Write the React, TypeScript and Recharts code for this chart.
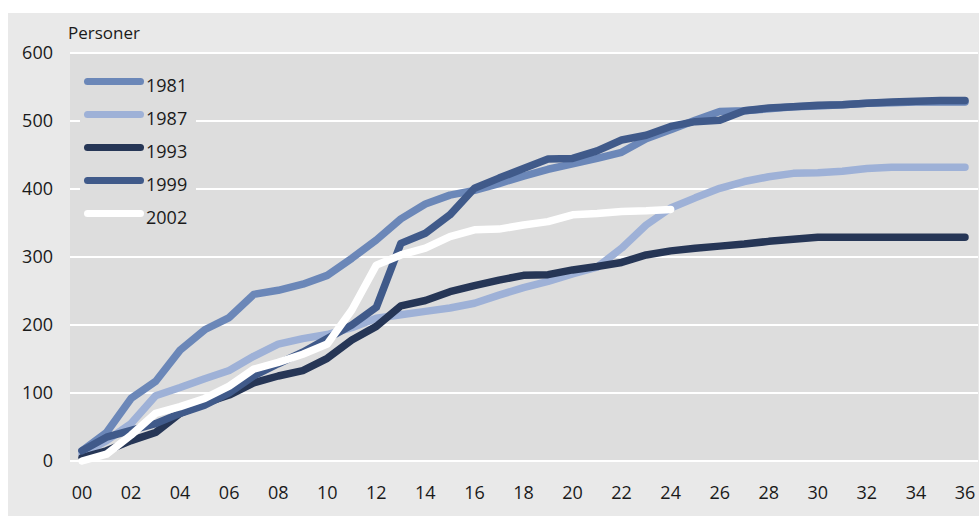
import { LineChart, Line, XAxis, YAxis, CartesianGrid } from 'recharts';

const periods = [
  '00', '01', '02', '03', '04', '05', '06', '07', '08', '09',
  '10', '11', '12', '13', '14', '15', '16', '17', '18', '19',
  '20', '21', '22', '23', '24', '25', '26', '27', '28', '29',
  '30', '31', '32', '33', '34', '35', '36',
];

const y1981 = [
  15, 42, 92, 117, 163, 193, 211, 245, 251, 260,
  273, 298, 325, 356, 378, 391, 398, 408, 419, 429,
  437, 445, 454, 474, 487, 501, 514, 515, 518, 521,
  522, 524, 526, 527, 528, 528, 528,
];
const y1987 = [
  10, 30, 55, 96, 108, 121, 133, 154, 172, 180,
  186, 196, 210, 215, 220, 225, 232, 244, 255, 264,
  275, 285, 313, 347, 372, 387, 401, 411, 418, 423,
  424, 426, 430, 432, 432, 432, 432,
];
const y1993 = [
  5, 15, 30, 42, 70, 85, 97, 115, 125, 133,
  151, 178, 198, 228, 236, 249, 258, 266, 273, 274,
  281, 286, 292, 303, 309, 313, 316, 319, 323, 326,
  329, 329, 329, 329, 329, 329, 329,
];
const y1999 = [
  15, 35, 45, 55, 70, 82, 100, 125, 143, 160,
  180, 200, 226, 320, 335, 362, 401, 416, 430, 444,
  445, 456, 472, 479, 492, 499, 501, 515, 519, 521,
  523, 524, 526, 528, 529, 530, 530,
];
const y2002 = [
  0, 10, 38, 70, 80, 92, 110, 135, 145, 157,
  172, 222, 288, 303, 313, 330, 340, 341, 347, 352,
  362, 364, 367, 368, 370,
];

const yTicks = [0, 100, 200, 300, 400, 500, 600];

const series = [
  { key: 'y1981', name: '1981', color: '#6b87b8', values: y1981 },
  { key: 'y1987', name: '1987', color: '#9eb1d7', values: y1987 },
  { key: 'y1993', name: '1993', color: '#263656', values: y1993 },
  { key: 'y1999', name: '1999', color: '#405a8a', values: y1999 },
  { key: 'y2002', name: '2002', color: '#ffffff', values: y2002 },
];

const data = periods.map((p, i) => {
  const row: Record<string, string | number | undefined> = { period: p };
  series.forEach((s) => {
    row[s.key] = s.values[i];
  });
  return row;
});

const FONT = '"Open Sans", sans-serif';
const TEXT = '#1a1a1a';

// legend drawn as html on top of the plot, it hides the gridlines behind it
function LegendBox() {
  return (
    <div
      style={{
        position: 'absolute',
        left: 72,
        top: 52,
        width: 116,
        background: '#dddddd',
        paddingBottom: 4,
      }}
    >
      {series.map((s) => (
        <div key={s.key} style={{ height: 33, display: 'flex', alignItems: 'center' }}>
          <span
            style={{
              display: 'inline-block',
              width: 60,
              height: 7,
              borderRadius: 4,
              marginLeft: 4,
              background: s.color,
            }}
          />
          <span
            style={{
              marginLeft: 2,
              marginTop: 6,
              fontSize: 18,
              color: TEXT,
              lineHeight: '18px',
            }}
          >
            {s.name}
          </span>
        </div>
      ))}
    </div>
  );
}

export default function App() {
  return (
    <div
      style={{
        position: 'absolute',
        left: 8,
        top: 13,
        width: 971,
        height: 503,
        background: '#e9e9e9',
        fontFamily: FONT,
      }}
    >
      <div style={{ position: 'absolute', left: 60, top: 8, fontSize: 17, color: TEXT }}>
        Personer
      </div>
      <LineChart
        width={971}
        height={503}
        data={data}
        margin={{ top: 40, right: 1, bottom: 25, left: 0 }}
      >
        <CartesianGrid
          vertical={false}
          stroke="#ffffff"
          strokeWidth={2}
          fill="#dddddd"
          fillOpacity={1}
        />
        <XAxis
          dataKey="period"
          height={30}
          interval={1}
          padding={{ left: 12, right: 13 }}
          axisLine={false}
          tickLine={false}
          tickSize={0}
          tickMargin={25}
          tick={{ fill: TEXT, fontSize: 18, fontFamily: FONT }}
        />
        <YAxis
          domain={[0, 600]}
          ticks={yTicks}
          width={62}
          axisLine={false}
          tickLine={false}
          tickSize={0}
          tickMargin={17}
          tick={{ fill: TEXT, fontSize: 18, fontFamily: FONT }}
        />
        {series.map((s) => (
          <Line
            key={s.key}
            type="linear"
            dataKey={s.key}
            name={s.name}
            stroke={s.color}
            strokeWidth={7.5}
            strokeLinecap="round"
            strokeLinejoin="round"
            dot={false}
            activeDot={false}
            isAnimationActive={false}
          />
        ))}
      </LineChart>
      <LegendBox />
    </div>
  );
}
